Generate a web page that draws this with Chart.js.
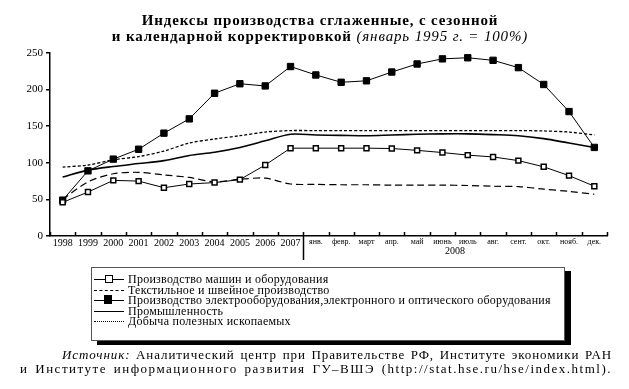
<!DOCTYPE html>
<html>
<head>
<meta charset="utf-8">
<script src="https://cdn.jsdelivr.net/npm/chart.js@4/dist/chart.umd.min.js"></script>
<style>
  html, body { margin: 0; padding: 0; background: #fff; }
  body { width: 629px; height: 389px; position: relative; overflow: hidden; font-family: "Liberation Serif", serif; color: #000; }
  #wrap { position: absolute; left: 0; top: 0; width: 629px; height: 389px; }
  .title { position: absolute; left: 0; width: 640px; text-align: center; font-weight: bold; font-size: 15px; line-height: 16px; letter-spacing: 0.85px; }
  .title i { font-weight: normal; }
  .legend { position: absolute; left: 91px; top: 267px; width: 472px; height: 72px; border: 1px solid #555; background: #fff; box-shadow: 6px 4px 0 #000; }
  .row { position: absolute; left: 2px; height: 11px; font-size: 12px; line-height: 11px; letter-spacing: 0.25px; white-space: nowrap; }
  .mk { position: absolute; left: 0; top: 5px; width: 30px; height: 0; border-top: 1.5px solid #000; }
  .mk.dash { border-top: 1.5px dashed #000; }
  .mk.dot { border-top: 1.5px dotted #000; }
  .mk .sq { position: absolute; left: 11px; top: -5px; width: 6px; height: 6px; border: 1.5px solid #000; background: #fff; }
  .mk .sq.f { background: #000; left: 10px; top: -6px; width: 8px; height: 9px; border: 0; }
  .row span { position: absolute; left: 34px; top: 0; }
  .src { position: absolute; font-size: 13px; line-height: 14px; text-align: justify; text-align-last: justify; white-space: nowrap; }
</style>
</head>
<body>
<div id="wrap"><canvas id="c" width="629" height="389"></canvas></div>

<div class="title" style="top:12px">Индексы производства сглаженные, с сезонной</div>
<div class="title" style="top:28px">и календарной корректировкой <i>(январь 1995 г. = 100%)</i></div>

<div class="legend">
  <div class="row" style="top:6px"><div class="mk"><div class="sq"></div></div><span>Производство машин и оборудования</span></div>
  <div class="row" style="top:17px"><div class="mk dash"></div><span>Текстильное и швейное производство</span></div>
  <div class="row" style="top:27px"><div class="mk"><div class="sq f"></div></div><span>Производство электрооборудования,электронного и оптического оборудования</span></div>
  <div class="row" style="top:38px"><div class="mk"></div><span>Промышленность</span></div>
  <div class="row" style="top:48px"><div class="mk dot"></div><span>Добыча полезных ископаемых</span></div>
</div>

<div class="src" style="left:62px; width:550px; top:348px; letter-spacing:0.9px"><i>Источник:</i> Аналитический центр при Правительстве РФ, Институте экономики РАН</div>
<div class="src" style="left:20px; width:592px; top:362px; letter-spacing:1.5px">и Институте информационного развития ГУ–ВШЭ (http://stat.hse.ru/hse/index.html).</div>

<script>
// categories
const years = ['1998', '1999', '2000', '2001', '2002', '2003', '2004', '2005', '2006', '2007'];
const months = ['янв.', 'февр.', 'март', 'апр.', 'май', 'июнь', 'июль', 'авг.', 'сент.', 'окт.', 'нояб.', 'дек.'];
const labels = years.concat(months);
const yTicks = [0, 50, 100, 150, 200, 250];

// series (index, Jan 1995 = 100)
const machinery = [46, 60, 76, 75, 66, 71, 73, 77, 97, 120, 120, 120, 120, 119.5, 117, 114, 110.5, 108, 103, 94.5, 82.5, 68];
const textile = [50, 74, 85, 87, 83.5, 80, 74, 77.5, 79, 71, 70.5, 70, 70, 69.5, 69.5, 69.5, 69, 68, 67.5, 64, 61, 57];
const electro = [49, 89, 105, 118.5, 140.5, 160, 195, 208, 205, 231.5, 220, 210, 212, 224, 235, 242, 243.5, 240, 230, 207, 170, 121];
const industry = [80.5, 90, 95, 99, 103, 110, 114.5, 121, 130, 139, 138, 137.5, 137, 138, 139, 139.5, 139.5, 138.5, 137, 133, 127, 121];
const mining = [94, 97, 104, 108.5, 116, 127, 132.5, 137, 142, 144, 144, 144, 144, 144, 144, 144, 144, 144, 144, 143.5, 142, 138];

const SERIF = '"Liberation Serif", serif';

// inward category ticks on x, long separator after 2007, "2008" caption
const axisMarks = {
    id: 'axisMarks',
    afterDraw(chart) {
        const ctx = chart.ctx;
        const x = chart.scales.x;
        const area = chart.chartArea;
        const half = (x.getPixelForValue(1) - x.getPixelForValue(0)) / 2;
        ctx.save();
        ctx.strokeStyle = '#000';
        ctx.lineWidth = 1.5;
        for (let i = 0; i <= labels.length; i++) {
            const px = Math.round(x.getPixelForValue(i) - half) + 0.5;
            ctx.beginPath();
            ctx.moveTo(px, area.bottom);
            ctx.lineTo(px, area.bottom - 4);
            ctx.stroke();
        }
        const sep = Math.round(x.getPixelForValue(years.length) - half) + 0.5;
        ctx.beginPath();
        ctx.moveTo(sep, area.bottom);
        ctx.lineTo(sep, area.bottom + 24);
        ctx.stroke();
        const mid = (x.getPixelForValue(years.length) + x.getPixelForValue(labels.length - 1)) / 2;
        ctx.fillStyle = '#000';
        ctx.font = '10px ' + SERIF;
        ctx.textAlign = 'center';
        ctx.textBaseline = 'middle';
        ctx.fillText('2008', mid, area.bottom + 15);
        ctx.restore();
    }
};

new Chart(document.getElementById('c'), {
    type: 'line',
    data: {
        labels: labels,
        datasets: [
            {
                label: 'Производство машин и оборудования',
                data: machinery,
                borderColor: '#000', borderWidth: 1,
                pointStyle: 'rect', pointRadius: 3.5,
                pointBackgroundColor: '#fff', pointBorderColor: '#000', pointBorderWidth: 1.5,
                tension: 0
            },
            {
                label: 'Текстильное и швейное производство',
                data: textile,
                borderColor: '#000', borderWidth: 1.2, borderDash: [7, 4],
                pointRadius: 0, tension: 0.3
            },
            {
                label: 'Производство электрооборудования,электронного и оптического оборудования',
                data: electro,
                borderColor: '#000', borderWidth: 1,
                pointStyle: 'rect', pointRadius: 4.5,
                pointBackgroundColor: '#000', pointBorderColor: '#000',
                tension: 0
            },
            {
                label: 'Промышленность',
                data: industry,
                borderColor: '#000', borderWidth: 1.6,
                pointRadius: 0, tension: 0.3
            },
            {
                label: 'Добыча полезных ископаемых',
                data: mining,
                borderColor: '#000', borderWidth: 1.3, borderDash: [3, 2],
                pointRadius: 0, tension: 0.3
            }
        ]
    },
    options: {
        responsive: false,
        animation: false,
        layout: { padding: { top: 53, right: 22, bottom: 123, left: 0 } },
        plugins: {
            legend: { display: false },
            tooltip: { enabled: false }
        },
        scales: {
            x: {
                offset: true,
                afterFit(scale) { scale.height = 30; },
                grid: { display: false, drawTicks: false },
                border: { display: true, color: '#000', width: 1.5 },
                ticks: {
                    autoSkip: false, maxRotation: 0, padding: 1,
                    color: '#000',
                    font(c) { return { family: SERIF, size: c.index < years.length ? 10 : 8 }; }
                }
            },
            y: {
                min: 0, max: 250,
                afterFit(scale) { scale.width = 50; },
                afterBuildTicks(scale) { scale.ticks = yTicks.map(v => ({ value: v })); },
                grid: { drawOnChartArea: false, tickLength: 4, color: '#000', lineWidth: 1.5 },
                border: { display: true, color: '#000', width: 1.5 },
                ticks: { color: '#000', padding: 3, font: { family: SERIF, size: 11 } }
            }
        }
    },
    plugins: [axisMarks]
});
</script>
</body>
</html>
